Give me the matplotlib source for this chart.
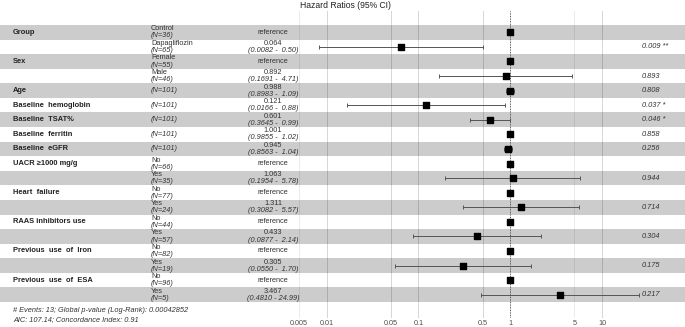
import numpy as np
import matplotlib.pyplot as plt
import matplotlib.transforms as mtransforms

plt.rcParams['font.family'] = ['Liberation Sans', 'DejaVu Sans']

# one entry per row of the forest plot
var_names = ["Group", "", "Sex", "", "Age", "Baseline  hemoglobin", "Baseline  TSAT%",
             "Baseline  ferritin", "Baseline  eGFR", "UACR \u22651000 mg/g", "",
             "Heart  failure", "", "RAAS inhibitors use", "", "Previous  use  of  Iron", "",
             "Previous  use  of  ESA", ""]
levels = ["Control", "Dapagliflozin", "Female", "Male", "", "", "", "", "",
          "No", "Yes", "No", "Yes", "No", "Yes", "No", "Yes", "No", "Yes"]
n_obs = [36, 65, 55, 46, 101, 101, 101, 101, 101, 66, 35, 77, 24, 44, 57, 82, 19, 96, 5]
hr = [1, 0.064, 1, 0.892, 0.988, 0.121, 0.601, 1.001, 0.945, 1, 1.063, 1, 1.311,
      1, 0.433, 1, 0.305, 1, 3.467]
ci_low = [np.nan, 0.0082, np.nan, 0.1691, 0.8983, 0.0166, 0.3645, 0.9855, 0.8563,
          np.nan, 0.1954, np.nan, 0.3082, np.nan, 0.0877, np.nan, 0.0550, np.nan, 0.4810]
ci_high = [np.nan, 0.50, np.nan, 4.71, 1.09, 0.88, 0.99, 1.02, 1.04,
           np.nan, 5.78, np.nan, 5.57, np.nan, 2.14, np.nan, 1.70, np.nan, 24.99]
pvals = ["", "0.009 **", "", "0.893", "0.808", "0.037 *", "0.046 *", "0.858", "0.256",
         "", "0.944", "", "0.714", "", "0.304", "", "0.175", "", "0.217"]
xticks = [0.005, 0.01, 0.05, 0.1, 0.5, 1, 5, 10]
footer = ["# Events: 13; Global p-value (Log-Rank): 0.00042852",
          "AIC: 107.14; Concordance Index: 0.91"]

W, H = 685, 327
fig = plt.figure(figsize=(W / 100, H / 100), dpi=100)
ax = fig.add_axes([0, 9 / H, 1, 307 / H])
ax.set_xscale('log')
ax.set_xlim(10 ** -5.558, 10 ** 1.904)
ax.set_ylim(20.596, -0.460)
for s in ax.spines.values():
    s.set_visible(False)
ax.set_yticks([])
ax.set_xticks(xticks)
ax.set_xticklabels(['%g' % t for t in xticks], fontsize=5.2, color='#4D4D4D')
ax.minorticks_off()
ax.tick_params(axis='x', length=0, pad=1.5)

light = {0.005, 5}
for t in xticks:
    ax.axvline(t, color='#EBEBEB' if t in light else '#D6D6D6', lw=0.7, zorder=0)

rows = np.arange(1, len(hr) + 1)
for r in rows:
    if r % 2 == 1:
        ax.axhspan(r - 0.5, r + 0.5, color='black', alpha=0.2, lw=0, zorder=1)

ax.axvline(1, color='#555555', ls=':', lw=0.7, zorder=2)

hr_a = np.array(hr)
lo = np.array(ci_low)
hi = np.array(ci_high)
has_ci = ~np.isnan(lo)
ax.errorbar(hr_a[has_ci], rows[has_ci],
            xerr=[hr_a[has_ci] - lo[has_ci], hi[has_ci] - hr_a[has_ci]],
            fmt='none', ecolor='#555555', elinewidth=0.7, capsize=1.2, capthick=0.7, zorder=3)
ax.scatter(hr_a, rows, marker='s', s=23, color='black', zorder=4)

tr = mtransforms.blended_transform_factory(ax.transAxes, ax.transData)
fs = 5.3
for r, name, lev, n, est, l, h, p in zip(rows, var_names, levels, n_obs, hr, ci_low, ci_high, pvals):
    if name:
        ax.text(13 / W, r, name, transform=tr, fontsize=5.4, fontweight='bold',
                ha='left', va='center', color='#222222')
    if lev:
        ax.text(151 / W, r - 0.24, lev, transform=tr, fontsize=fs, ha='left', va='center', color='#333333')
        ax.text(151 / W, r + 0.25, "(N=%d)" % n, transform=tr, fontsize=fs, style='italic',
                ha='left', va='center', color='#333333')
    else:
        ax.text(151 / W, r, "(N=%d)" % n, transform=tr, fontsize=fs, style='italic',
                ha='left', va='center', color='#333333')
    if np.isnan(l):
        ax.text(273 / W, r, "reference", transform=tr, fontsize=fs, ha='center', va='center', color='#333333')
    else:
        ax.text(273 / W, r - 0.24, "%.3f" % est, transform=tr, fontsize=fs, ha='center', va='center', color='#333333')
        ax.text(273 / W, r + 0.25, "(%.4f - %5.2f)" % (l, h), transform=tr, fontsize=fs, style='italic',
                ha='center', va='center', color='#333333')
    if p:
        ax.text(642 / W, r, p, transform=tr, fontsize=fs, style='italic', ha='left', va='center', color='#333333')

fig.text(13 / W, 1 - 310 / H, footer[0], fontsize=fs, style='italic', ha='left', va='center', color='#333333')
fig.text(13 / W, 1 - 320 / H, footer[1], fontsize=fs, style='italic', ha='left', va='center', color='#333333')
fig.text(345 / W, 1 - 5 / H, "Hazard Ratios (95% CI)", fontsize=6.2, ha='center', va='center', color='#222222')

fig.savefig('out.png', dpi=100)
